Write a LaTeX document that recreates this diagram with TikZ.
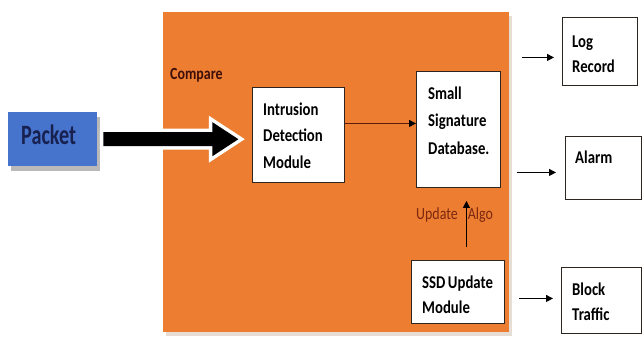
\documentclass[tikz,border=0pt]{standalone}
\usepackage{fontspec}
\setmainfont{Carlito}[FakeStretch=0.82]
\newfontfamily\pkfont{Carlito}[FakeStretch=0.72]
\usetikzlibrary{arrows.meta,calc,shadows}
\definecolor{ora}{HTML}{ED7D31}
\definecolor{oraedge}{HTML}{E6DDD4}
\definecolor{pkblue}{HTML}{4673CC}
\definecolor{navy}{HTML}{18204F}
\definecolor{maroon}{HTML}{3E0F0A}
\definecolor{brownred}{HTML}{7A2810}
\definecolor{boxline}{HTML}{2E2420}
\definecolor{darkline}{HTML}{5A1C0C}
\begin{document}
\begin{tikzpicture}[x=1pt,y=-1pt,
  box/.style={draw=boxline, line width=0.9pt, fill=white, inner sep=0pt, anchor=north west},
  txt/.style={anchor=base west, inner sep=0pt, text=black},
  conn/.style={line width=1pt, -{Triangle[length=7pt,width=7pt]}},
]
\useasboundingbox (0,0) rectangle (642,338);
\fill[white] (0,0) rectangle (642,338);

% main orange block
\node[anchor=north west, fill=ora, draw=none, inner sep=0pt, minimum width=346pt, minimum height=320pt,
      drop shadow={shadow xshift=3pt, shadow yshift=-4pt, fill=oraedge, opacity=1}] (ids) at (163,12) {};

% packet
\node[anchor=north west, fill=pkblue, draw=none, inner sep=0pt, minimum width=89pt, minimum height=54pt,
      drop shadow={shadow xshift=3pt, shadow yshift=-5pt, fill=gray!55, opacity=1}] (pk) at (8,112) {};
\node[anchor=base west, inner sep=0pt, text=navy, font=\pkfont\fontsize{28}{30}\selectfont\bfseries] (pkT) at (21,144) {Packet};

% inner boxes
\node[box, minimum width=92pt, minimum height=95pt] (idm) at (252,87) {};
\node[txt, font=\fontsize{18}{26.5}\selectfont\bfseries] (idmT) at (263,115)
  {\begin{tabular}[t]{@{}l@{}}Intrusion\\Detection\\Module\end{tabular}};

\node[box, minimum width=84pt, minimum height=116pt] (ssdb) at (416,71) {};
\node[txt, font=\fontsize{18}{27.5}\selectfont\bfseries] (ssdbT) at (428,99)
  {\begin{tabular}[t]{@{}l@{}}Small\\Signature\\Database.\end{tabular}};

\node[box, minimum width=93pt, minimum height=63pt] (upd) at (411,260) {};
\node[txt, font=\fontsize{18}{25}\selectfont\bfseries] (updT) at (422,288)
  {\begin{tabular}[t]{@{}l@{}}SSD\hspace{2.5pt}Update\\Module\end{tabular}};

% labels
\node[txt, text=maroon, font=\fontsize{17}{20}\selectfont\bfseries] (cmp) at (170,79) {Compare};
\node[txt, text=brownred, font=\fontsize{17}{20}\selectfont] (ua) at (416,219) {Update\hspace{10pt}Algo};

% outer boxes
\node[box, minimum width=75pt, minimum height=68pt] (log) at (562,17) {};
\node[txt, font=\fontsize{18}{25}\selectfont\bfseries] (logT) at (572,47)
  {\begin{tabular}[t]{@{}l@{}}Log\\Record\end{tabular}};

\node[box, minimum width=76pt, minimum height=63pt] (alarm) at (565,136) {};
\node[txt, font=\fontsize{18}{25}\selectfont\bfseries] (alarmT) at (575,163) {Alarm};

\node[box, minimum width=80pt, minimum height=66pt] (block) at (561,267) {};
\node[txt, font=\fontsize{18}{25}\selectfont\bfseries] (blockT) at (572,295)
  {\begin{tabular}[t]{@{}l@{}}Block\\Traffic\end{tabular}};

% big arrow packet -> IDM
\begin{scope}[shift={(pk.east)}]
  \draw[white, line width=7pt, line join=miter, miter limit=20]
    (6,-7) -- (115,-7) -- (115,-17) -- (141,0) -- (115,17) -- (115,7) -- (6,7) -- cycle;
  \fill[black]
    (6,-7) -- (115,-7) -- (115,-17) -- (141,0) -- (115,17) -- (115,7) -- (6,7) -- cycle;
\end{scope}

% IDM -> database
\draw[conn, darkline, -{Triangle[length=7pt,width=7pt,color=black]}]
  ([yshift=11.5pt]idm.east) coordinate (s1) -- (s1 -| ssdb.west);

% update -> database
\draw[conn, black, shorten <=13pt, shorten >=13pt] ([xshift=8.5pt]upd.north) -- ([xshift=8pt]ssdb.south);

% outputs
\draw[conn] ($(ids.east |- log.west)+(13,6)$) -- ($(log.west)+(-8,6)$);
\draw[conn] ($(ids.east |- alarm.west)+(8,4.5)$) -- ($(alarm.west)+(-9,4.5)$);
\draw[conn] ($(ids.east |- block.west)+(10,-2)$) -- ($(block.west)+(-8,-2)$);
\end{tikzpicture}
\end{document}
